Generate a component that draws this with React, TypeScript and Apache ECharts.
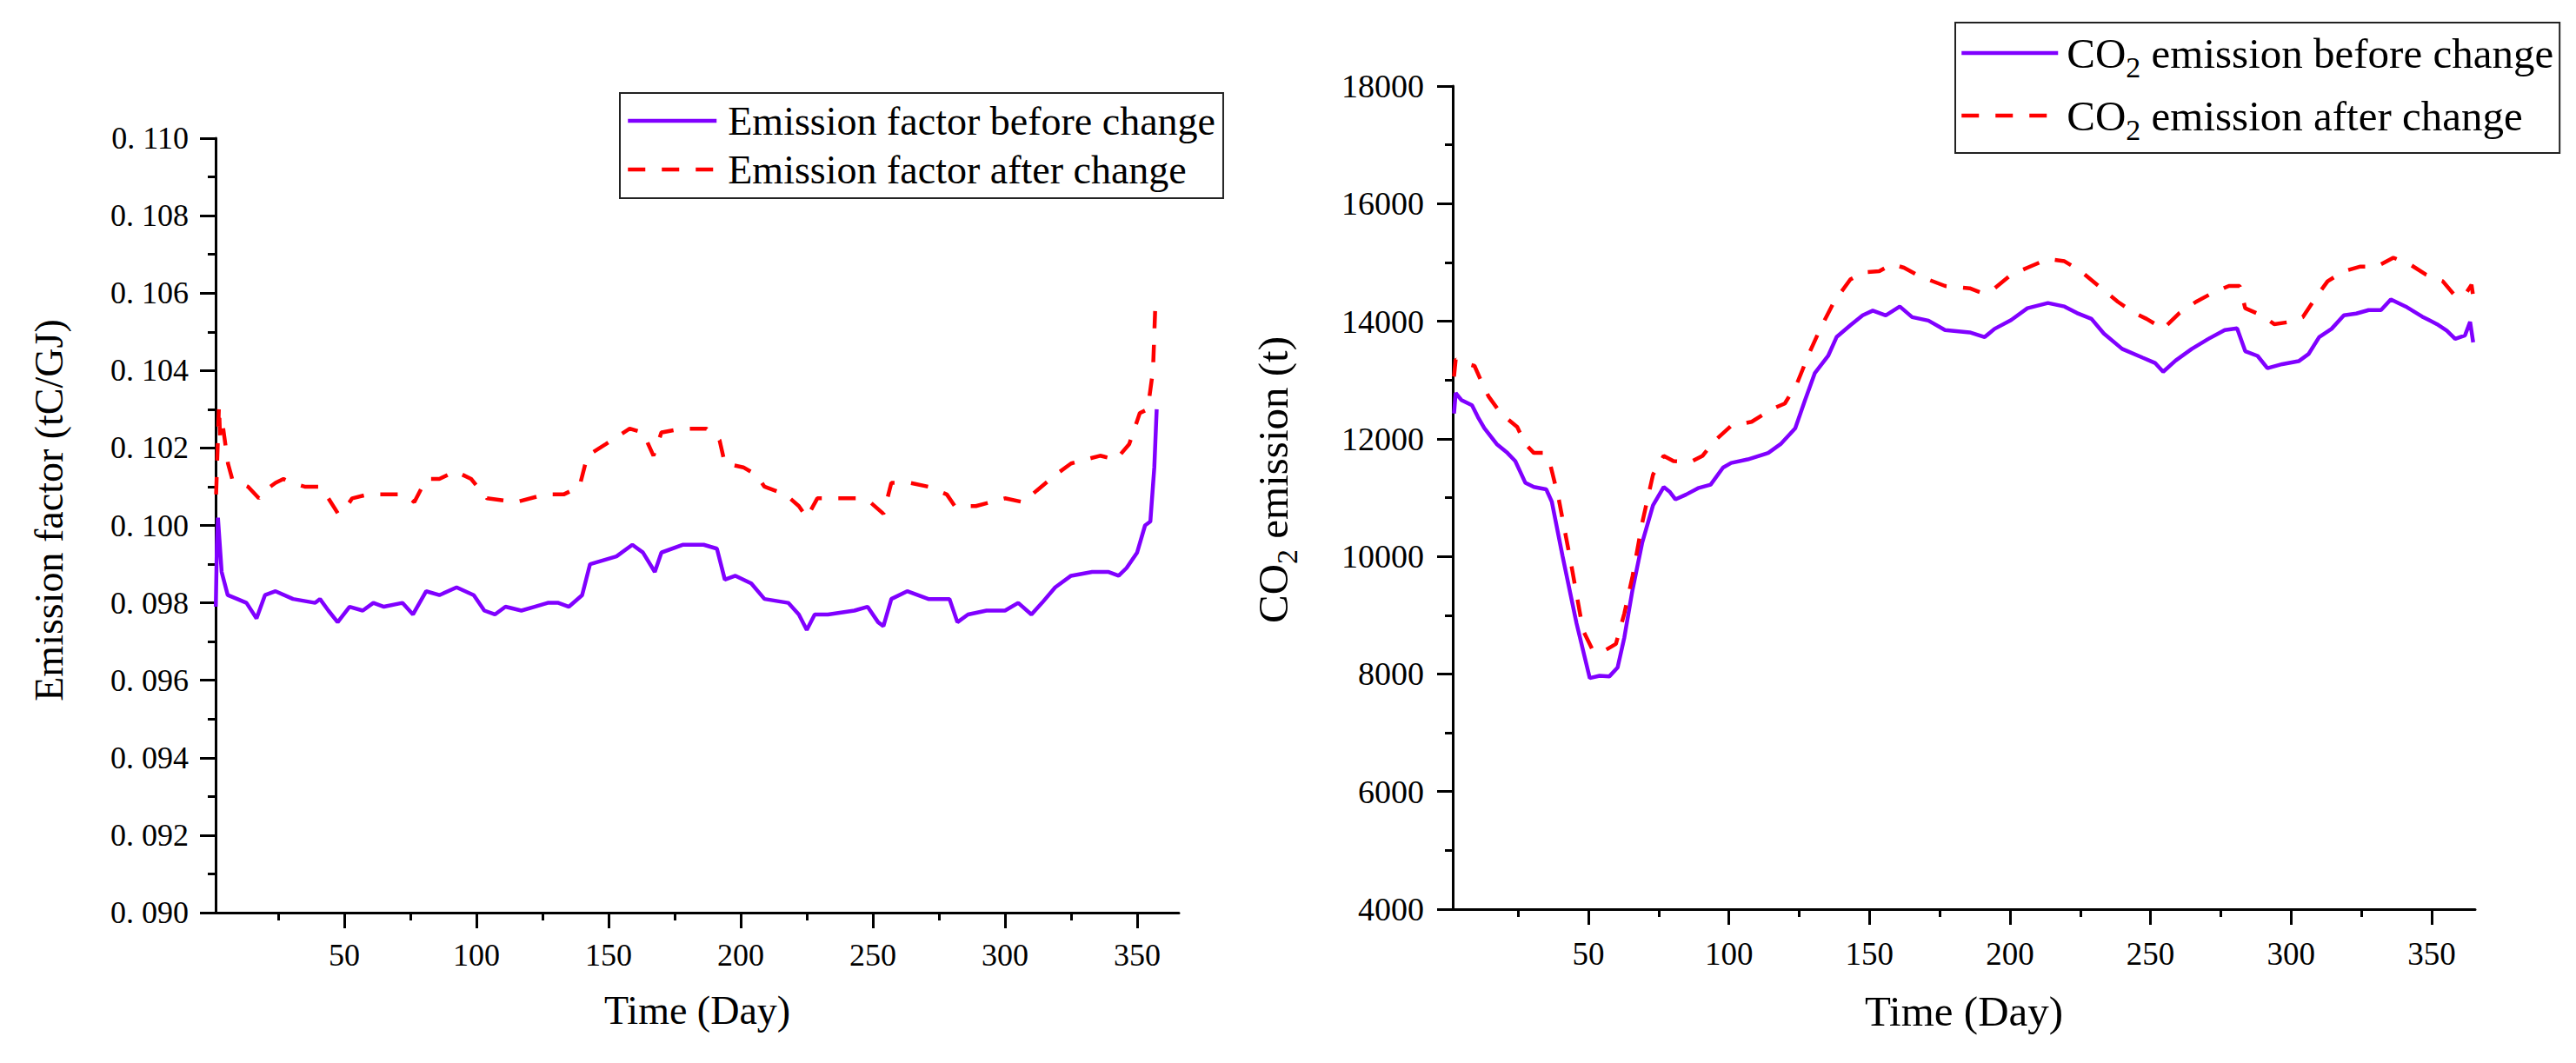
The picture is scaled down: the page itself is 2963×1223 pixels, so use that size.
import React, { useEffect, useRef } from "react";
import * as echarts from "echarts";

const FONT = '"Liberation Serif", "Times New Roman", Times, serif';
const PURPLE = "#8000ff";
const RED = "#ff0000";

// ---- tick labels ----
const majorDays = [50, 100, 150, 200, 250, 300, 350];
const minorDays = [25, 75, 125, 175, 225, 275, 325];

// ---- left chart: emission factor (tC/GJ) ----
const efBeforeDays = [1.4, 1.8, 2.2, 3.6, 5.9, 9.5, 13, 16.8, 20, 24, 30.6, 39, 40.8, 44, 47.5, 52, 57, 61, 65, 72, 76, 81, 86, 92.5, 99, 103, 107, 111, 117, 122, 127, 131, 135, 140, 143, 148, 153, 159, 163, 167.5, 170, 178, 186, 191, 194, 198, 204, 209, 218, 222, 225, 228, 233, 243, 248, 252, 254, 257, 263, 271, 279, 282, 286, 293, 300, 305, 310, 314, 319, 325, 333, 339, 343, 346, 350, 353, 355, 356.5, 357.4];
const efBefore = [0.0979, 0.0995, 0.1002, 0.0988, 0.0982, 0.0981, 0.098, 0.0976, 0.0982, 0.0983, 0.0981, 0.098, 0.0981, 0.0978, 0.0975, 0.0979, 0.0978, 0.098, 0.0979, 0.098, 0.0977, 0.0983, 0.0982, 0.0984, 0.0982, 0.0978, 0.0977, 0.0979, 0.0978, 0.0979, 0.098, 0.098, 0.0979, 0.0982, 0.099, 0.0991, 0.0992, 0.0995, 0.0993, 0.0988, 0.0993, 0.0995, 0.0995, 0.0994, 0.0986, 0.0987, 0.0985, 0.0981, 0.098, 0.0977, 0.0973, 0.0977, 0.0977, 0.0978, 0.0979, 0.0975, 0.0974, 0.0981, 0.0983, 0.0981, 0.0981, 0.0975, 0.0977, 0.0978, 0.0978, 0.098, 0.0977, 0.098, 0.0984, 0.0987, 0.0988, 0.0988, 0.0987, 0.0989, 0.0993, 0.1, 0.1001, 0.1015, 0.103];

const efAfterDays = [1.5, 1.7, 2.6, 3, 4, 6, 7.6, 13.6, 17.7, 20, 24, 27, 30, 35, 41, 44, 47.7, 51, 53, 59, 62.6, 73, 76.5, 81, 86, 92, 98, 104, 115, 126, 133, 139, 142, 149, 158, 163, 167, 170, 178, 187, 192, 194, 201, 206, 209, 217, 222, 225, 229, 244, 249, 254, 257, 264, 271, 278, 281, 289, 300, 307, 312, 319, 325, 336, 342, 347, 351, 354, 356, 357];
const efAfter = [0.1008, 0.1012, 0.1031, 0.1023, 0.1026, 0.1016, 0.1012, 0.101, 0.1007, 0.1009, 0.1011, 0.1012, 0.1011, 0.101, 0.101, 0.1007, 0.1003, 0.1005, 0.1007, 0.1008, 0.1008, 0.1008, 0.1006, 0.1012, 0.1012, 0.1014, 0.1012, 0.1007, 0.1006, 0.1008, 0.1008, 0.101, 0.1018, 0.1021, 0.1025, 0.1024, 0.1018, 0.1024, 0.1025, 0.1025, 0.1022, 0.1016, 0.1015, 0.1013, 0.101, 0.1008, 0.1005, 0.1002, 0.1007, 0.1007, 0.1006, 0.1003, 0.1011, 0.1011, 0.101, 0.1008, 0.1005, 0.1005, 0.1007, 0.1006, 0.1009, 0.1013, 0.1016, 0.1018, 0.1017, 0.1021, 0.1029, 0.103, 0.104, 0.1059];

// ---- right chart: CO2 emission (t) ----
const co2BeforeDays = [2.2, 2.8, 4.8, 8.6, 10.7, 13, 17.4, 21.2, 24, 27.6, 30.6, 35, 37, 40.8, 45.8, 50.5, 54, 57.5, 60.4, 62.8, 65.7, 69.2, 73, 76.8, 78.9, 81, 84.7, 89, 93.5, 97.9, 100.8, 106.7, 114, 118.4, 123.6, 127.1, 130.6, 135.3, 138.3, 143.2, 147.6, 151.2, 155.8, 160.8, 165.2, 171, 176.9, 185.7, 191, 194.5, 200.4, 206.2, 213.5, 219.4, 223.8, 229, 233.4, 239.9, 247.2, 251.6, 254.5, 258.9, 264.7, 270.6, 276.4, 280.8, 283.7, 288.1, 291.6, 296.9, 302.7, 306.2, 310, 314.4, 318.8, 323.2, 327.6, 332, 335.5, 340.8, 346.6, 351.9, 355.4, 358.4, 361.9, 363.7, 364.8];
const co2Before = [12430, 12780, 12660, 12570, 12370, 12180, 11910, 11760, 11620, 11250, 11180, 11140, 10930, 10010, 8860, 7930, 7970, 7960, 8110, 8620, 9430, 10240, 10870, 11180, 11100, 10970, 11050, 11160, 11220, 11510, 11590, 11650, 11760, 11910, 12180, 12660, 13120, 13410, 13730, 13930, 14100, 14180, 14100, 14250, 14070, 14010, 13850, 13810, 13730, 13870, 14020, 14220, 14310, 14250, 14140, 14040, 13790, 13530, 13380, 13290, 13140, 13330, 13530, 13700, 13850, 13880, 13490, 13410, 13200, 13270, 13320, 13440, 13730, 13870, 14100, 14130, 14190, 14190, 14370, 14250, 14080, 13950, 13840, 13700, 13760, 13990, 13640];

const co2AfterDays = [2.2, 2.8, 5.7, 9.5, 11.6, 14.5, 18.9, 24.7, 27.6, 30.6, 34, 36.4, 39.4, 43.8, 48.1, 51.7, 55.5, 59.8, 62.8, 65.7, 69.2, 73, 76.8, 80.3, 86.2, 90.6, 95, 100.8, 108.1, 115.5, 119.9, 124.3, 128.7, 132.5, 137.4, 143.2, 147.6, 153.5, 157.9, 162.3, 168.1, 176.9, 185.7, 190.1, 194.5, 200.4, 206.2, 213.5, 219.4, 225.2, 232.5, 238.4, 244.3, 248.6, 254.5, 260.3, 266.2, 272, 277.9, 281.7, 283.7, 289.6, 294, 299.8, 304.2, 308.6, 313, 318.8, 324.7, 330.5, 336.4, 342.2, 348.1, 354, 358.4, 361.9, 364.2, 365.1];
const co2After = [13060, 13350, 13290, 13240, 13010, 12720, 12430, 12200, 11910, 11760, 11760, 11570, 10990, 9890, 8740, 8390, 8390, 8510, 9030, 9660, 10580, 11390, 11710, 11620, 11600, 11710, 11970, 12220, 12290, 12510, 12600, 12950, 13470, 13870, 14330, 14710, 14830, 14850, 14970, 14910, 14760, 14600, 14560, 14480, 14560, 14790, 14910, 15060, 15020, 14850, 14560, 14330, 14140, 14040, 13870, 14140, 14330, 14480, 14600, 14600, 14220, 14100, 13950, 13990, 14070, 14390, 14680, 14850, 14930, 14930, 15080, 14970, 14790, 14680, 14430, 14450, 14620, 14330];

const seriesNames = [
  "Emission factor before change",
  "Emission factor after change",
  "CO2 emission before change",
  "CO2 emission after change",
];

function pairs(x: number[], y: number[]) {
  return x.map((d, i) => [d, y[i]]);
}

const black = "#000";
const axisLine = { show: true, onZero: false, lineStyle: { color: black, width: 3 } };
const tickStyle = { color: black, width: 3 };
const LINE_W = 4.5;
const DASH = [20, 19];

function xAxesFor(gridIndex: number, min: number, max: number, labelSize: number, margin: number, nameGap: number, nameSize: number) {
  return [
    {
      type: "value", gridIndex, min, max, position: "bottom",
      name: "Time (Day)", nameLocation: "middle", nameGap,
      nameTextStyle: { fontFamily: FONT, fontSize: nameSize, color: black },
      axisLine,
      axisTick: { show: true, customValues: majorDays, length: 18, lineStyle: tickStyle },
      axisLabel: {
        show: true, customValues: majorDays, fontFamily: FONT, fontSize: labelSize, color: black, margin,
        formatter: (v: number) => String(v),
      },
      splitLine: { show: false },
    },
    {
      type: "value", gridIndex, min, max, position: "bottom",
      axisLine: { show: false },
      axisTick: { show: true, customValues: minorDays, length: 9, lineStyle: tickStyle },
      axisLabel: { show: false },
      splitLine: { show: false },
    },
  ];
}

function legendItem(name: string, color: string, dashed: boolean) {
  return {
    name,
    itemStyle: { opacity: 0 },
    lineStyle: { color, width: LINE_W, type: dashed ? DASH : "solid", opacity: 1 },
  };
}

export default function App() {
  const ref = useRef<HTMLDivElement>(null);

  useEffect(() => {
    if (!ref.current) return;
    const chart = echarts.init(ref.current, null, { renderer: "svg" });

    const lineCommon = {
      type: "line", showSymbol: false, symbol: "none", smooth: false,
      emphasis: { disabled: true },
    };

    const option: any = {
      animation: false,
      backgroundColor: "#fff",
      textStyle: { fontFamily: FONT, color: black },
      grid: [
        { left: 248, top: 159, width: 1108, height: 891, outerBoundsMode: "none", containLabel: false },
        { left: 1671, top: 99, width: 1176, height: 947, outerBoundsMode: "none", containLabel: false },
      ],
      xAxis: [
        ...xAxesFor(0, 1.32, 365.8, 36, 31, 89, 46),
        ...xAxesFor(1, 1.75, 365.5, 37, 33, 93, 49),
      ],
      yAxis: [
        {
          type: "value", gridIndex: 0, min: 0.09, max: 0.11, interval: 0.002,
          name: "Emission factor (tC/GJ)", nameLocation: "middle", nameGap: 169,
          nameTextStyle: { fontFamily: FONT, fontSize: 46, color: black, padding: [0, 0, 0, 35] },
          axisLine,
          axisTick: { show: true, length: 18, lineStyle: tickStyle },
          minorTick: { show: true, splitNumber: 2, length: 9, lineStyle: tickStyle },
          axisLabel: {
            fontFamily: FONT, fontSize: 36, color: black, margin: 31,
            formatter: (v: number) => v.toFixed(3).replace(".", ". "),
          },
          splitLine: { show: false },
        },
        {
          type: "value", gridIndex: 1, min: 4000, max: 18000, interval: 2000,
          name: "CO{sub|2} emission (t)", nameLocation: "middle", nameGap: 174,
          nameTextStyle: {
            fontFamily: FONT, fontSize: 49, color: black, lineHeight: 66, padding: [0, 0, 0, 41],
            rich: { sub: { fontFamily: FONT, fontSize: 34, color: black, verticalAlign: "bottom" } },
          },
          axisLine,
          axisTick: { show: true, length: 18, lineStyle: tickStyle },
          minorTick: { show: true, splitNumber: 2, length: 9, lineStyle: tickStyle },
          axisLabel: {
            fontFamily: FONT, fontSize: 38, color: black, margin: 33,
            formatter: (v: number) => String(Math.round(v)),
          },
          splitLine: { show: false },
        },
      ],
      legend: [
        {
          orient: "vertical", left: 713, top: 107,
          data: [legendItem(seriesNames[0], PURPLE, false), legendItem(seriesNames[1], RED, true)],
          padding: [7, 9, 8, 7], itemGap: 6, itemWidth: 102, itemHeight: 14,
          borderColor: "#222", borderWidth: 2,
          itemStyle: { opacity: 0 },
          textStyle: { fontFamily: FONT, fontSize: 46, color: black, lineHeight: 50, padding: [0, 0, 0, 8] },
        },
        {
          orient: "vertical", left: 2249, top: 26,
          data: [legendItem(seriesNames[2], PURPLE, false), legendItem(seriesNames[3], RED, true)],
          padding: [2, 7, 10, 5], itemGap: 6, itemWidth: 111, itemHeight: 14,
          borderColor: "#222", borderWidth: 2,
          itemStyle: { opacity: 0 },
          formatter: (name: string) => name.replace("CO2", "CO{sub|2}"),
          textStyle: {
            fontFamily: FONT, fontSize: 49, color: black, lineHeight: 66, padding: [0, 0, 0, 5],
            rich: { sub: { fontFamily: FONT, fontSize: 34, color: black, verticalAlign: "bottom" } },
          },
        },
      ],
      series: [
        {
          ...lineCommon, name: seriesNames[0], xAxisIndex: 0, yAxisIndex: 0,
          data: pairs(efBeforeDays, efBefore),
          lineStyle: { color: PURPLE, width: LINE_W }, itemStyle: { color: PURPLE },
        },
        {
          ...lineCommon, name: seriesNames[1], xAxisIndex: 0, yAxisIndex: 0,
          data: pairs(efAfterDays, efAfter),
          lineStyle: { color: RED, width: LINE_W, type: DASH }, itemStyle: { color: RED },
        },
        {
          ...lineCommon, name: seriesNames[2], xAxisIndex: 2, yAxisIndex: 1,
          data: pairs(co2BeforeDays, co2Before),
          lineStyle: { color: PURPLE, width: LINE_W }, itemStyle: { color: PURPLE },
        },
        {
          ...lineCommon, name: seriesNames[3], xAxisIndex: 2, yAxisIndex: 1,
          data: pairs(co2AfterDays, co2After),
          lineStyle: { color: RED, width: LINE_W, type: DASH }, itemStyle: { color: RED },
        },
      ],
    };

    chart.setOption(option);
    return () => chart.dispose();
  }, []);

  return (
    <div
      ref={ref}
      style={{ position: "absolute", left: 0, top: 0, width: 2963, height: 1223, background: "#fff" }}
    />
  );
}
